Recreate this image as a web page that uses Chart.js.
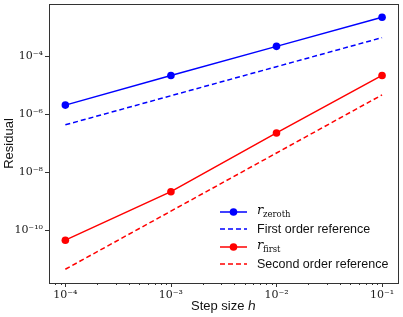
<!DOCTYPE html>
<html>
<head>
<meta charset="utf-8">
<script src="https://cdn.jsdelivr.net/npm/chart.js@4"></script>
<style>
  html, body { margin: 0; padding: 0; background: #fff; }
  #wrap { width: 403px; height: 317px; }
</style>
</head>
<body>
<div id="wrap"><canvas id="myChart" width="403" height="317"></canvas></div>
<script>
const stepSizes = [1e-4, 1e-3, 1e-2, 1e-1];
const rZeroth = [2.0e-6, 2.1e-5, 2.1e-4, 2.1e-3];
const firstOrderRef = [4.2e-7, 4.2e-6, 4.2e-5, 4.2e-4];
const rFirst = [4.5e-11, 2.1e-9, 2.2e-7, 2.1e-5];
const secondOrderRef = [4.5e-12, 4.5e-10, 4.5e-8, 4.5e-6];

const xMajor = [1e-4, 1e-3, 1e-2, 1e-1];
const yMajor = [1e-10, 1e-8, 1e-6, 1e-4];
const xMin = Math.pow(10, -4.151);
const xMax = Math.pow(10, -0.849);
const yMin = Math.pow(10, -11.82);
const yMax = Math.pow(10, -2.22);

const sup = { '-': '⁻', '0': '⁰', '1': '¹', '2': '²', '3': '³', '4': '⁴', '5': '⁵', '6': '⁶', '7': '⁷', '8': '⁸', '9': '⁹' };
function powLabel(v) {
    const e = String(Math.round(Math.log10(v)));
    return '10' + e.split('').map(c => sup[c]).join('');
}

// minor ticks on x axis (2..9 per decade)
const xMinor = [];
for (let d = -5; d <= 0; d++) {
    for (let m = 2; m <= 9; m++) {
        const v = m * Math.pow(10, d);
        if (v > xMin && v < xMax) xMinor.push(v);
    }
}

function pts(ys) {
    return stepSizes.map((x, i) => ({ x: x, y: ys[i] }));
}

const BLUE = '#0000ff';
const RED = '#ff0000';
const SANS = '"Liberation Sans", Arial, sans-serif';

const legendItems = [
    { color: BLUE, dash: [], marker: true, sub: 'zeroth' },
    { color: BLUE, dash: [5, 3], marker: false, text: 'First order reference' },
    { color: RED, dash: [], marker: true, sub: 'first' },
    { color: RED, dash: [5, 3], marker: false, text: 'Second order reference' }
];

const framePlugin = {
    id: 'frame',
    afterDraw(chart) {
        const ctx = chart.ctx;
        const a = chart.chartArea;
        const xs = chart.scales.x;
        const ys = chart.scales.y;
        ctx.save();
        ctx.strokeStyle = '#333';
        ctx.lineWidth = 1;
        ctx.strokeRect(Math.round(a.left) + 0.5, Math.round(a.top) + 0.5,
            Math.round(a.right - a.left), Math.round(a.bottom - a.top));
        // ticks
        ctx.beginPath();
        xMajor.forEach(v => {
            const px = Math.round(xs.getPixelForValue(v)) + 0.5;
            ctx.moveTo(px, a.bottom); ctx.lineTo(px, a.bottom + 4);
        });
        xMinor.forEach(v => {
            const px = Math.round(xs.getPixelForValue(v)) + 0.5;
            ctx.moveTo(px, a.bottom); ctx.lineTo(px, a.bottom + 2);
        });
        yMajor.forEach(v => {
            const py = Math.round(ys.getPixelForValue(v)) + 0.5;
            ctx.moveTo(a.left, py); ctx.lineTo(a.left - 4, py);
        });
        ctx.stroke();

        // legend
        const x0 = 220;
        legendItems.forEach((it, i) => {
            const ly = [212, 229, 247, 264][i];
            ctx.strokeStyle = it.color;
            ctx.lineWidth = 1.5;
            ctx.setLineDash(it.dash);
            ctx.beginPath();
            ctx.moveTo(x0, ly); ctx.lineTo(x0 + 27, ly);
            ctx.stroke();
            ctx.setLineDash([]);
            if (it.marker) {
                ctx.fillStyle = it.color;
                ctx.beginPath();
                ctx.arc(x0 + 13.5, ly, 3.8, 0, Math.PI * 2);
                ctx.fill();
            }
            ctx.fillStyle = '#111';
            ctx.textBaseline = 'middle';
            ctx.textAlign = 'left';
            if (it.text) {
                ctx.font = '12.5px ' + SANS;
                ctx.fillText(it.text, x0 + 37, ly + 1);
            } else {
                ctx.font = 'italic 13px "DejaVu Serif"';
                ctx.fillText('r', x0 + 37, ly - 1);
                ctx.font = '8.5px "DejaVu Serif"';
                ctx.fillText(it.sub, x0 + 43, ly + 3);
            }
        });
        ctx.restore();
    }
};

const ctx = document.getElementById('myChart');
const myChart = new Chart(ctx, {
    type: 'line',
    data: {
        datasets: [
            {
                label: 'r_zeroth',
                data: pts(rZeroth),
                borderColor: BLUE,
                backgroundColor: BLUE,
                borderWidth: 1.5,
                pointRadius: 3.8,
                pointBorderWidth: 0,
                fill: false
            },
            {
                label: 'First order reference',
                data: pts(firstOrderRef),
                borderColor: BLUE,
                borderWidth: 1.5,
                borderDash: [5, 3],
                pointRadius: 0,
                fill: false
            },
            {
                label: 'r_first',
                data: pts(rFirst),
                borderColor: RED,
                backgroundColor: RED,
                borderWidth: 1.5,
                pointRadius: 3.8,
                pointBorderWidth: 0,
                fill: false
            },
            {
                label: 'Second order reference',
                data: pts(secondOrderRef),
                borderColor: RED,
                borderWidth: 1.5,
                borderDash: [5, 3],
                pointRadius: 0,
                fill: false
            }
        ]
    },
    options: {
        responsive: false,
        animation: false,
        layout: { padding: { left: 0, right: 5, top: 4, bottom: 0 } },
        plugins: {
            legend: { display: false },
            tooltip: { enabled: false }
        },
        scales: {
            x: {
                type: 'logarithmic',
                min: xMin,
                max: xMax,
                afterBuildTicks: scale => { scale.ticks = xMajor.map(v => ({ value: v })); },
                afterFit: scale => {
                    scale.height = 34;
                    scale.paddingLeft = 0;
                    scale.paddingRight = 0;
                },
                grid: { display: false, drawTicks: false },
                border: { display: false },
                ticks: {
                    autoSkip: false,
                    maxRotation: 0,
                    padding: 6,
                    color: '#222',
                    font: { family: '"DejaVu Serif"', size: 11 },
                    callback: v => powLabel(v)
                },
                title: {
                    display: true,
                    text: 'Step size ℎ',
                    color: '#111',
                    font: { family: SANS, size: 13 },
                    padding: { top: 0, bottom: 3 }
                }
            },
            y: {
                type: 'logarithmic',
                min: yMin,
                max: yMax,
                afterBuildTicks: scale => { scale.ticks = yMajor.map(v => ({ value: v })); },
                afterFit: scale => {
                    scale.width = 49;
                    scale.paddingTop = 0;
                    scale.paddingBottom = 0;
                },
                grid: { display: false, drawTicks: false },
                border: { display: false },
                ticks: {
                    autoSkip: false,
                    padding: 6,
                    color: '#222',
                    font: { family: '"DejaVu Serif"', size: 11 },
                    callback: v => powLabel(v)
                },
                title: {
                    display: true,
                    text: 'Residual',
                    color: '#111',
                    font: { family: SANS, size: 13 },
                    padding: { top: 2, bottom: 0 }
                }
            }
        }
    },
    plugins: [framePlugin]
});
</script>
</body>
</html>
